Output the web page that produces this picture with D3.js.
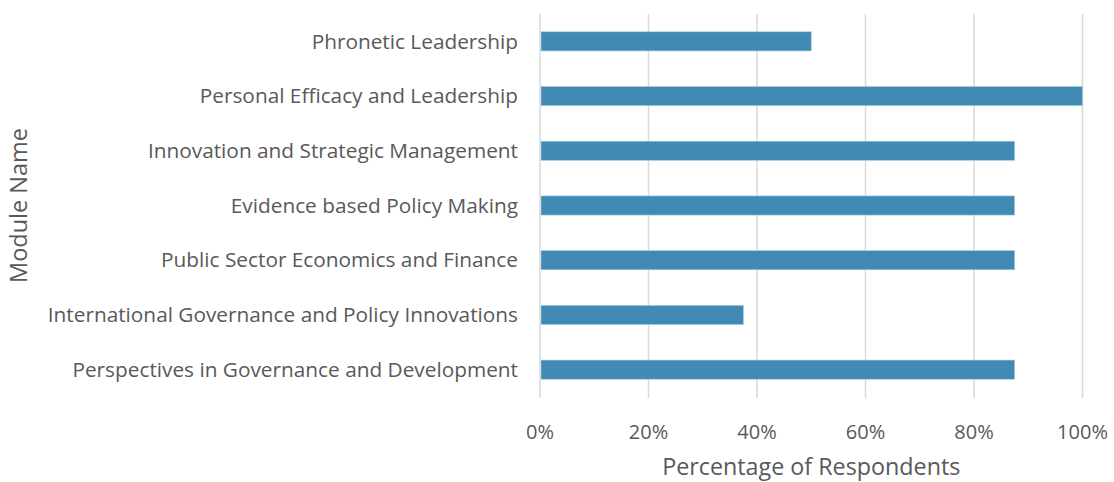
<!DOCTYPE html>
<html>
<head>
<meta charset="utf-8">
<script src="https://cdn.jsdelivr.net/npm/d3@7"></script>
<style>
  body { margin: 0; background: #fff; }
  text { font-family: "Open Sans", sans-serif; fill: #595959; }
</style>
</head>
<body>
<svg id="chart" width="1114" height="482"></svg>
<script>
// ── Data ────────────────────────────────────────────────────────────
const modules = [
  'Phronetic Leadership',
  'Personal Efficacy and Leadership',
  'Innovation and Strategic Management',
  'Evidence based Policy Making',
  'Public Sector Economics and Finance',
  'International Governance and Policy Innovations',
  'Perspectives in Governance and Development'
];
const percentages = [0.5, 1.0, 0.875, 0.875, 0.875, 0.375, 0.875];
const tickValues = [0, 0.2, 0.4, 0.6, 0.8, 1.0];

// ── Layout ──────────────────────────────────────────────────────────
const svg = d3.select('#chart');
const plotL = 540, plotR = 1082.5, plotT = 14, plotB = 397;

const x = d3.scaleLinear().domain([0, 1]).range([plotL, plotR]);
const y = d3.scaleBand().domain(modules).range([plotT, plotB]).paddingInner(0.65).paddingOuter(0.325);

// gridlines
svg.append('g').selectAll('line')
  .data(tickValues)
  .join('line')
  .attr('x1', d => x(d)).attr('x2', d => x(d))
  .attr('y1', plotT).attr('y2', plotB + 1)
  .attr('stroke', '#d9d9d9').attr('stroke-width', 1.5);

// bars
svg.append('g').selectAll('rect')
  .data(modules)
  .join('rect')
  .attr('x', x(0) + 1)
  .attr('y', d => y(d))
  .attr('width', (d, i) => x(percentages[i]) - x(0) - 1)
  .attr('height', y.bandwidth())
  .attr('fill', '#418ab3')
  .attr('stroke', '#a8cde2').attr('stroke-width', 0.6);

// category labels
svg.append('g').selectAll('text')
  .data(modules)
  .join('text')
  .attr('x', plotL - 22)
  .attr('y', d => y(d) + y.bandwidth() / 2)
  .attr('dy', '0.35em')
  .attr('text-anchor', 'end')
  .attr('font-size', 20.8)
  .text(d => d);

// tick labels
svg.append('g').selectAll('text')
  .data(tickValues)
  .join('text')
  .attr('x', d => x(d))
  .attr('y', 432)
  .attr('dy', '0.35em')
  .attr('text-anchor', 'middle')
  .attr('font-size', 20)
  .text(d3.format('.0%'));

// axis titles
svg.append('text')
  .attr('x', (plotL + plotR) / 2)
  .attr('y', 467)
  .attr('dy', '0.35em')
  .attr('text-anchor', 'middle')
  .attr('font-size', 23.3)
  .text('Percentage of Respondents');

svg.append('text')
  .attr('transform', `translate(19, ${(plotT + plotB) / 2}) rotate(-90)`)
  .attr('dy', '0.35em')
  .attr('text-anchor', 'middle')
  .attr('font-size', 23.5)
  .text('Module Name');
</script>
</body>
</html>
